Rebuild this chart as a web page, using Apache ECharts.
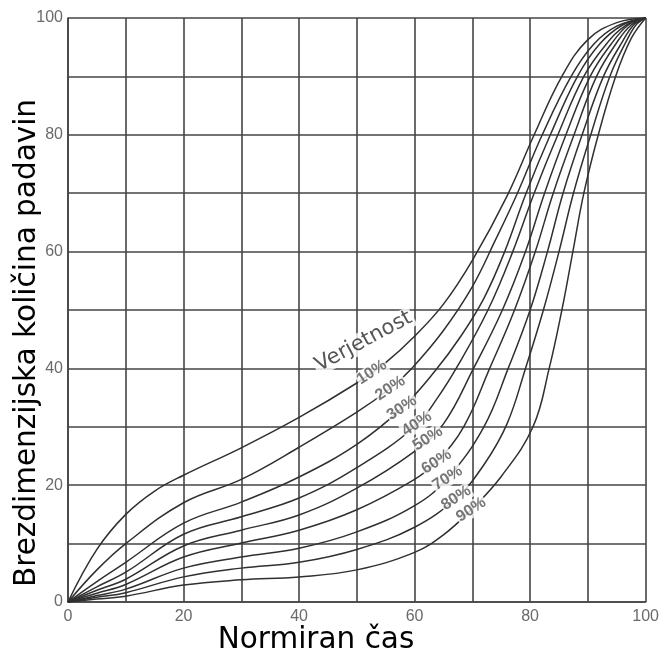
<!DOCTYPE html>
<html>
<head>
<meta charset="utf-8">
<script src="https://cdn.jsdelivr.net/npm/echarts@6/dist/echarts.min.js"></script>
<style>
  html, body { margin: 0; padding: 0; background: #fff; }
  #chart { width: 662px; height: 655px; }
</style>
</head>
<body>
<div id="chart"></div>
<script>
// Mass curves of dimensionless rainfall vs. normalised time, one per probability level.
const probabilities = ['10%', '20%', '30%', '40%', '50%', '60%', '70%', '80%', '90%'];

const p10 = [[0,0],[5,9],[10,15],[15,19],[20,21.7],[30,26.4],[40,31.6],[50,37.5],[55,41],[60,45.5],[65,51],[70,58.5],[76,69.5],[80.7,80],[85.5,90],[90,96.3],[95,99.2],[100,100]];
const p20 = [[0,0],[5,5.5],[10,10],[20,17],[30,21],[40,26.5],[50,32.5],[55.8,36.6],[59.5,40],[65,46.5],[70,54],[74,62],[77.8,70],[82.1,80],[87.1,90],[91,95.5],[95,98.6],[100,100]];
const p30 = [[0,0],[5,3.5],[10,6.8],[20,13.5],[30,17.1],[40,21.4],[50,27],[57.8,33.2],[63.5,39.5],[68,45.5],[72,52],[75.6,60],[79.3,70],[83.5,80],[88.2,90],[92,95.5],[96,98.8],[100,100]];
const p40 = [[0,0],[5,2.6],[10,5.1],[20,11.6],[30,14.6],[40,17.8],[50,23],[60,30],[64,35],[67.5,40.5],[72.7,50],[77,60],[80.7,70],[84.8,80],[89.3,90],[93,95.3],[96.5,98.7],[100,100]];
const p50 = [[0,0],[5,2],[10,3.9],[20,9.6],[30,12.3],[40,14.9],[50,19.5],[60,25.8],[65,30.5],[70.2,40],[75.2,50],[79.2,60],[82.5,70],[86.2,80],[90.4,90],[94,95.5],[97,98.8],[100,100]];
const p60 = [[0,0],[5,1.5],[10,3],[20,7.7],[30,10.1],[40,12.3],[50,15.8],[60,21],[63.8,24],[68.5,30],[73,40],[77.3,50],[80.9,60],[84,70],[87.6,80],[91.5,90],[95,95.8],[97.5,98.8],[100,100]];
const p70 = [[0,0],[5,1.1],[10,2.2],[20,5.8],[30,7.7],[40,9.2],[50,12],[60,16.5],[65.7,21.2],[72,30],[76.2,40],[80,50],[83,60],[85.7,70],[89,80],[92.7,90],[96,96],[98,98.9],[100,100]];
const p80 = [[0,0],[5,0.8],[10,1.6],[20,4.3],[30,5.8],[40,6.8],[50,9],[60,12.8],[67.2,17.8],[72,23.5],[76,30.5],[79.2,40],[82.3,50],[85,60],[87.5,70],[90.5,80],[93.8,90],[96.8,96.3],[98.5,99],[100,100]];
const p90 = [[0,0],[5,0.5],[10,1],[20,2.9],[30,3.8],[40,4.3],[50,5.5],[60,8.5],[65,11.5],[69.8,15.8],[75,21.5],[80.5,30],[83.3,40],[85.5,50],[87.4,60],[89.3,70],[91.8,80],[94.8,90],[97.5,96.5],[100,100]];

const curves = [p10, p20, p30, p40, p50, p60, p70, p80, p90];

// time value along each curve where its probability tag sits
const tagAtTime = [52.6, 55.8, 57.8, 60.4, 62.3, 63.8, 65.7, 67.2, 69.8];
const groupTitle = 'Verjetnost';
const groupTitleAt = [51.2, 44.6];

const xTitle = 'Normiran čas';
const yTitle = 'Brezdimenzijska količina padavin';

function valueOnCurve(curve, x) {
  for (let i = 1; i < curve.length; i++) {
    const a = curve[i - 1], b = curve[i];
    if (x <= b[0]) {
      const t = (x - a[0]) / (b[0] - a[0]);
      return a[1] + t * (b[1] - a[1]);
    }
  }
  return curve[curve.length - 1][1];
}

const gridColor = '#454545';
const tickFont = { color: '#6a6a6a', fontSize: 16, fontFamily: 'Liberation Sans' };

const curveSeries = curves.map((c, i) => ({
  name: probabilities[i],
  type: 'line',
  data: c,
  smooth: 0.4,
  showSymbol: false,
  symbol: 'none',
  silent: true,
  lineStyle: { color: '#303030', width: 1.5 },
  z: 3
}));

const tagData = probabilities.map((p, i) => ({
  name: p,
  value: [tagAtTime[i], valueOnCurve(curves[i], tagAtTime[i])]
}));
tagData.push({
  name: groupTitle,
  value: groupTitleAt,
  label: {
    fontSize: 21, fontWeight: 'normal', color: '#2a2a2a', rotate: 28,
    fontFamily: 'DejaVu Sans', backgroundColor: '#fff', padding: [0, 2]
  }
});

const option = {
  animation: false,
  backgroundColor: '#fff',
  grid: { left: 68, right: 8, top: 18, bottom: 53 },
  xAxis: {
    type: 'value', min: 0, max: 100, interval: 10,
    axisLine: { show: true, lineStyle: { color: gridColor, width: 1.6 } },
    axisTick: { show: false },
    axisLabel: Object.assign({ margin: 7, formatter: v => (v % 20 === 0 ? String(v) : '') }, tickFont),
    splitLine: { show: true, lineStyle: { color: gridColor, width: 1.6 } }
  },
  yAxis: {
    type: 'value', min: 0, max: 100, interval: 10,
    axisLine: { show: true, lineStyle: { color: gridColor, width: 1.6 } },
    axisTick: { show: false },
    axisLabel: Object.assign({ margin: 5, formatter: v => (v % 20 === 0 ? String(v) : '') }, tickFont),
    splitLine: { show: true, lineStyle: { color: gridColor, width: 1.6 } }
  },
  series: curveSeries.concat([{
    type: 'scatter',
    data: tagData,
    symbolSize: 0,
    silent: true,
    z: 10,
    label: {
      show: true,
      position: 'inside',
      formatter: p => p.name,
      rotate: 33,
      fontSize: 16,
      fontWeight: 'bold',
      fontFamily: 'Liberation Sans',
      color: '#555',
      backgroundColor: '#fff',
      padding: [0, 1]
    }
  }]),
  graphic: [
    {
      type: 'text', x: 27, y: 343, rotation: Math.PI / 2,
      style: { text: yTitle, font: '29.5px "DejaVu Sans"', fill: '#000', textAlign: 'center', textVerticalAlign: 'middle' }
    },
    {
      type: 'text', x: 316, y: 640,
      style: { text: xTitle, font: '29.5px "DejaVu Sans"', fill: '#000', textAlign: 'center', textVerticalAlign: 'middle' }
    }
  ]
};

const chart = echarts.init(document.getElementById('chart'));
chart.setOption(option);
</script>
</body>
</html>
